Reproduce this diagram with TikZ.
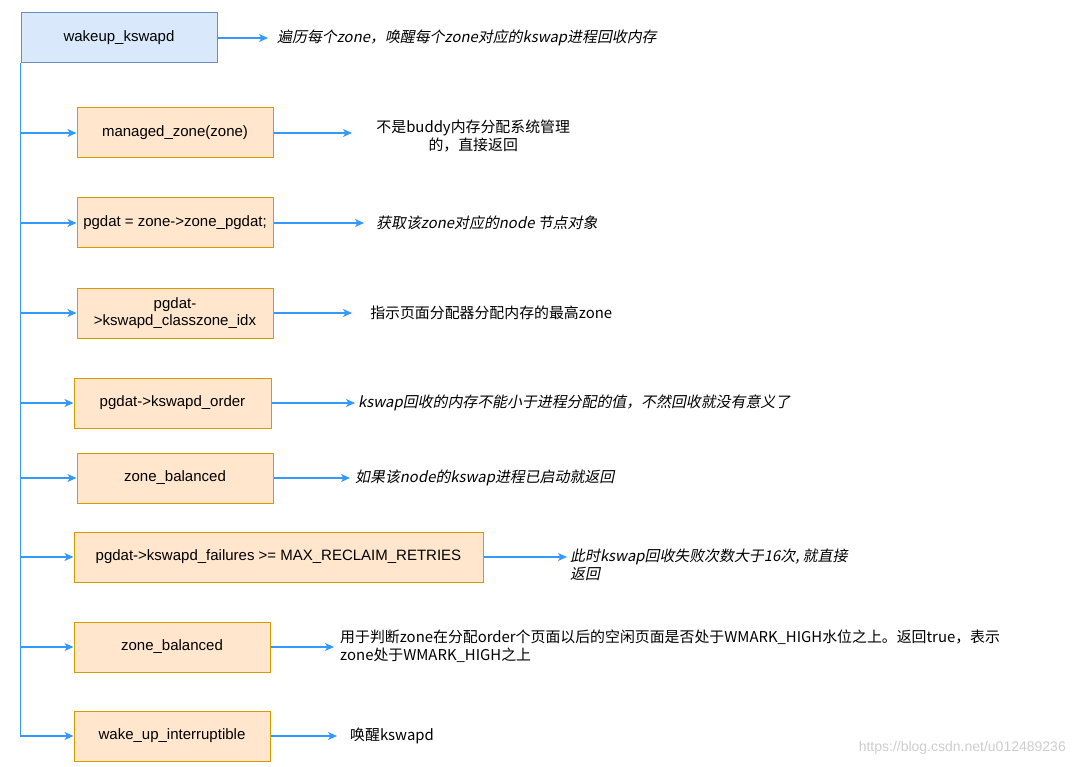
\documentclass[tikz,border=0pt]{standalone}
\usepackage{fontspec}
\setmainfont{Liberation Sans}
\newfontfamily\cjk{Noto Sans CJK SC}
\newfontfamily\cjkit{Noto Sans CJK SC}[FakeSlant=0.2]
\usetikzlibrary{arrows.meta,positioning}
\definecolor{rootfill}{HTML}{DAE8FC}
\definecolor{rootline}{HTML}{6C8EBF}
\definecolor{fnfill}{HTML}{FFE6CC}
\definecolor{fnline}{HTML}{D79B00}
\definecolor{flowblue}{RGB}{51,153,255}
\definecolor{markgrey}{RGB}{205,205,205}
\tikzset{
  fn/.style={draw=fnline,fill=fnfill,line width=1pt,minimum width=196pt,
             minimum height=50pt,inner sep=2pt,align=center,
             font=\fontsize{15}{17}\selectfont},
  fnroot/.style={fn,draw=rootline,fill=rootfill},
  flow/.style={-{Stealth[length=9pt,width=8pt,inset=2.5pt]},draw=flowblue,line width=1.3pt},
  note/.style={anchor=west,inner sep=3pt,align=left,font=\cjk\fontsize{14.9}{18}\selectfont},
  notei/.style={note,font=\cjkit\fontsize{14.9}{18}\selectfont},
}

\begin{document}
\begin{tikzpicture}[x=1pt,y=-1pt]
  \useasboundingbox (0,0) rectangle (1073,767);

  \node[fnroot] (wake)    at (119,38)    {wakeup\_kswapd};
  \node[fn]     (mzone)   at (175,133)   {managed\_zone(zone)};
  \node[fn]     (pgdat)   at (175,223)   {pgdat = zone->zone\_pgdat;};
  \node[fn]     (clsidx)  at (175,313)   {pgdat-\\>kswapd\_classzone\_idx};
  \node[fn,minimum width=197pt] (order) at (172.5,403) {pgdat->kswapd\_order};
  \node[fn]     (bal)     at (175,478)   {zone\_balanced};
  \node[fn,minimum width=409pt] (fail) at (278.5,557)
    {pgdat->kswapd\_failures >= MAX\_RECLAIM\_RETRIES};
  \node[fn]     (balhigh) at (172,647)   {zone\_balanced};
  \node[fn]     (wakeint) at (172,736)   {wake\_up\_interruptible};

  % annotations
  \node[notei,inner xsep=9pt]  (nwake)    at (268,38)
    {遍历每个zone，唤醒每个zone对应的kswap进程回收内存};
  \node[note,align=center,text width=236pt] (nmzone) at (352,136)
    {不是buddy内存分配系统管理\\的，直接返回};
  \node[notei,inner xsep=12pt] (npgdat)   at (364,223)
    {获取该zone对应的node 节点对象};
  \node[note,align=center,text width=272pt] (nclsidx) at (352,313)
    {指示页面分配器分配内存的最高zone};
  \node[notei]                 (norder)   at (355,403)
    {kswap回收的内存不能小于进程分配的值，不然回收就没有意义了};
  \node[notei,inner xsep=5pt]  (nbal)     at (350,478)
    {如果该node的kswap进程已启动就返回};
  \node[notei]                 (nfail)    at (567,565)
    {此时kswap回收失败次数大于16次, 就直接\\返回};
  \node[note,inner xsep=6pt]   (nbalhigh) at (334,646)
    {用于判断zone在分配order个页面以后的空闲页面是否处于WMARK\_HIGH水位之上。返回true，表示\\zone处于WMARK\_HIGH之上};
  \node[note,inner xsep=13pt]  (nwakeint) at (337,736) {唤醒kswapd};

  % trunk and branches
  \foreach \b in {mzone,pgdat,clsidx,order,bal,fail,balhigh,wakeint}
    \draw[flow] (wake.south west) |- (\b.west);

  \foreach \b/\n in {wake/nwake,mzone/nmzone,pgdat/npgdat,clsidx/nclsidx,
                     order/norder,bal/nbal,fail/nfail,balhigh/nbalhigh,wakeint/nwakeint}
    \draw[flow] (\b.east) -- (\b.east -| \n.west);

  \node[anchor=east,text=markgrey,inner sep=0pt,font=\fontsize{14}{16}\selectfont]
    (mark) at (1066,748) {https://blog.csdn.net/u012489236};
\end{tikzpicture}
\end{document}
